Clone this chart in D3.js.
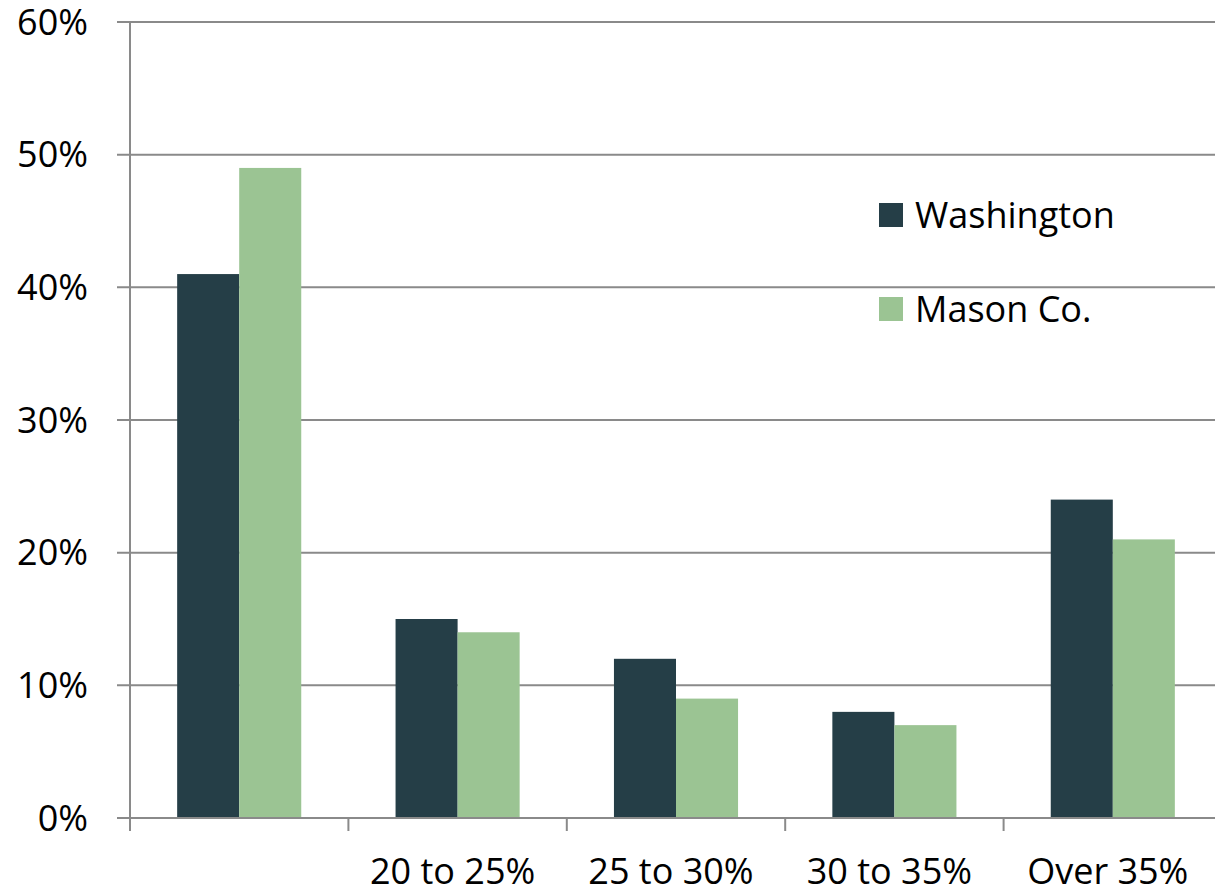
<!DOCTYPE html>
<meta charset="utf-8">
<head>
    <script type="text/javascript" src="https://d3js.org/d3.v7.min.js"></script>
    <style>
        body { margin: 0; background: #fff; }
        text { font-family: "Open Sans", sans-serif; fill: #000; }
    </style>
    <title></title>
</head>
<body>
<script>
    // chart data
    var categories = ["", "20 to 25%", "25 to 30%", "30 to 35%", "Over 35%"];
    var seriesNames = ["Washington", "Mason Co."];
    var washington = [41, 15, 12, 8, 24];
    var mason = [49, 14, 9, 7, 21];
    var yTicks = [0, 10, 20, 30, 40, 50, 60];
    var colors = ["#253e47", "#9bc493"];

    var width = 1215, height = 891;
    var margin = {top: 22, right: -7, bottom: 73, left: 130};

    var svg = d3.select("body")
        .append("svg")
        .attr("width", width)
        .attr("height", height);

    var x0 = d3.scaleBand()
        .domain(d3.range(categories.length))
        .range([margin.left, width - margin.right]);

    var x1 = d3.scaleBand()
        .domain(seriesNames)
        .range([0, x0.bandwidth()])
        .paddingOuter(0.76);

    var y = d3.scaleLinear()
        .domain([0, 60])
        .range([height - margin.bottom, margin.top]);

    // gridlines
    svg.append("g")
        .selectAll("line")
        .data(yTicks.slice(1))
        .join("line")
        .attr("x1", margin.left - 13)
        .attr("x2", width)
        .attr("y1", d => y(d))
        .attr("y2", d => y(d))
        .attr("stroke", "#8a8a8a")
        .attr("stroke-width", 2);

    // y labels
    svg.append("g")
        .selectAll("text")
        .data(yTicks)
        .join("text")
        .attr("x", 88)
        .attr("y", d => y(d))
        .attr("dy", "0.35em")
        .attr("text-anchor", "end")
        .attr("font-size", "36px")
        .text(d => d + "%");

    // bars
    var rows = categories.map((c, i) => ({i: i, vals: [washington[i], mason[i]]}));
    svg.append("g")
        .selectAll("g")
        .data(rows)
        .join("g")
        .attr("transform", d => "translate(" + x0(d.i) + ",0)")
        .selectAll("rect")
        .data(d => d.vals.map((v, k) => ({k: k, v: v})))
        .join("rect")
        .attr("x", d => x1(seriesNames[d.k]))
        .attr("width", x1.bandwidth())
        .attr("y", d => y(d.v))
        .attr("height", d => y(0) - y(d.v))
        .attr("fill", d => colors[d.k]);

    // axes lines
    svg.append("line")
        .attr("x1", margin.left).attr("x2", margin.left)
        .attr("y1", y(60)).attr("y2", y(0))
        .attr("stroke", "#8a8a8a").attr("stroke-width", 2);
    svg.append("line")
        .attr("x1", margin.left - 13).attr("x2", width)
        .attr("y1", y(0)).attr("y2", y(0))
        .attr("stroke", "#8a8a8a").attr("stroke-width", 2);
    svg.append("line")
        .attr("x1", margin.left - 13).attr("x2", margin.left)
        .attr("y1", y(60)).attr("y2", y(60))
        .attr("stroke", "#8a8a8a").attr("stroke-width", 2);

    // x ticks
    svg.append("g")
        .selectAll("line")
        .data(d3.range(categories.length + 1))
        .join("line")
        .attr("x1", d => margin.left + d * x0.step())
        .attr("x2", d => margin.left + d * x0.step())
        .attr("y1", y(0))
        .attr("y2", y(0) + 13)
        .attr("stroke", "#8a8a8a")
        .attr("stroke-width", 2);

    // x labels
    svg.append("g")
        .selectAll("text")
        .data(categories)
        .join("text")
        .attr("x", (d, i) => x0(i) + x0.bandwidth() / 2 - 5)
        .attr("y", 884)
        .attr("text-anchor", "middle")
        .attr("font-size", "36px")
        .text(d => d);

    // legend
    var legend = svg.append("g")
        .selectAll("g")
        .data(seriesNames)
        .join("g")
        .attr("transform", (d, i) => "translate(879," + (203 + i * 94) + ")");
    legend.append("rect")
        .attr("width", 24)
        .attr("height", 24)
        .attr("fill", (d, i) => colors[i]);
    legend.append("text")
        .attr("x", 36)
        .attr("y", 12)
        .attr("dy", "0.35em")
        .attr("font-size", "36px")
        .text(d => d);
</script>
</body>
</html>
